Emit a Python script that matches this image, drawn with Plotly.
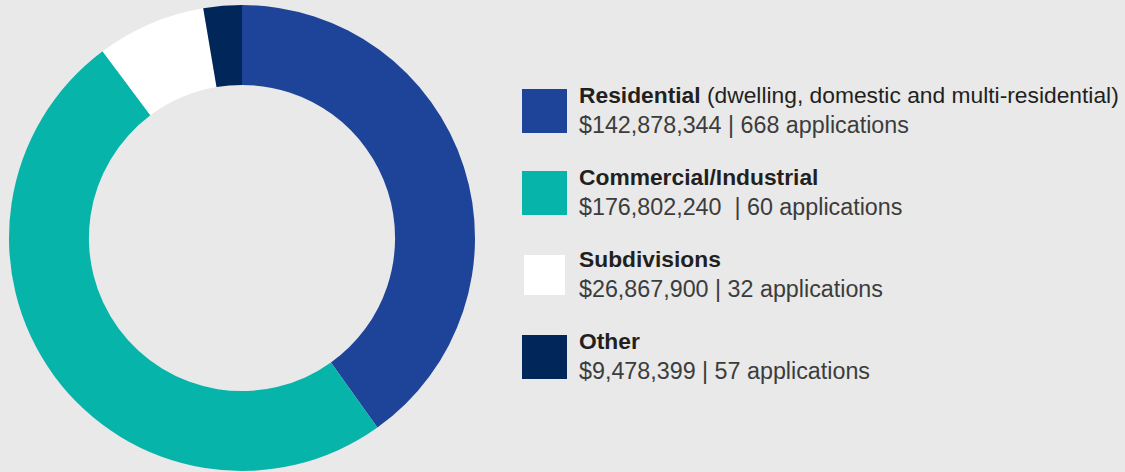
import plotly.graph_objects as go

W, H = 1125, 472

categories = ["Residential", "Commercial/Industrial", "Subdivisions", "Other"]
subtitles = [" (dwelling, domestic and multi-residential)", "", "", ""]
values = [142878344, 176802240, 26867900, 9478399]
applications = [668, 60, 32, 57]
value_labels = ["$142,878,344", "$176,802,240 ", "$26,867,900", "$9,478,399"]
colors = ["#1E449A", "#07B4AA", "#FFFFFF", "#00265A"]

BG = "#E8E9E8"

def px_x(x):
    return x / W

def px_y(y):
    return 1 - y / H

fig = go.Figure()
fig.add_trace(go.Pie(
    labels=categories,
    values=values,
    marker=dict(colors=colors, line=dict(width=0)),
    hole=0.657,
    sort=False,
    direction="clockwise",
    rotation=0,
    textinfo="none",
    hoverinfo="label+value+percent",
    showlegend=False,
    domain=dict(x=[px_x(9), px_x(475)], y=[px_y(471.5), px_y(4.5)]),
))

shapes = []
annotations = []
step = 82
for i, cat in enumerate(categories):
    top = 89 + i * step
    inset = 2 if colors[i] == "#FFFFFF" else 0
    shapes.append(dict(
        type="rect", xref="paper", yref="paper",
        x0=px_x(522 + inset), x1=px_x(567 - inset),
        y0=px_y(top + 44 - inset), y1=px_y(top + inset),
        fillcolor=colors[i], line=dict(width=0), layer="above",
    ))
    title = "<b>" + cat + "</b>" + subtitles[i]
    annotations.append(dict(
        text=title, xref="paper", yref="paper", x=px_x(577), y=px_y(95 + i * step),
        xanchor="left", yanchor="middle", showarrow=False,
        font=dict(family="Liberation Sans, Arial, sans-serif", size=22.8, color="#231F20"),
    ))
    line2 = f"{value_labels[i]} | {applications[i]} applications"
    annotations.append(dict(
        text=line2, xref="paper", yref="paper", x=px_x(577), y=px_y(124.5 + i * step),
        xanchor="left", yanchor="middle", showarrow=False,
        font=dict(family="Liberation Sans, Arial, sans-serif", size=23.3, color="#3C3C3C"),
    ))

fig.update_layout(
    width=W, height=H,
    margin=dict(l=0, r=0, t=0, b=0),
    paper_bgcolor=BG, plot_bgcolor=BG,
    shapes=shapes, annotations=annotations,
)

fig.write_html(
    "out.html",
    config={"displayModeBar": False},
    post_script="document.body.style.margin='0';document.body.style.background='%s';document.body.style.overflow='hidden';" % BG,
)
